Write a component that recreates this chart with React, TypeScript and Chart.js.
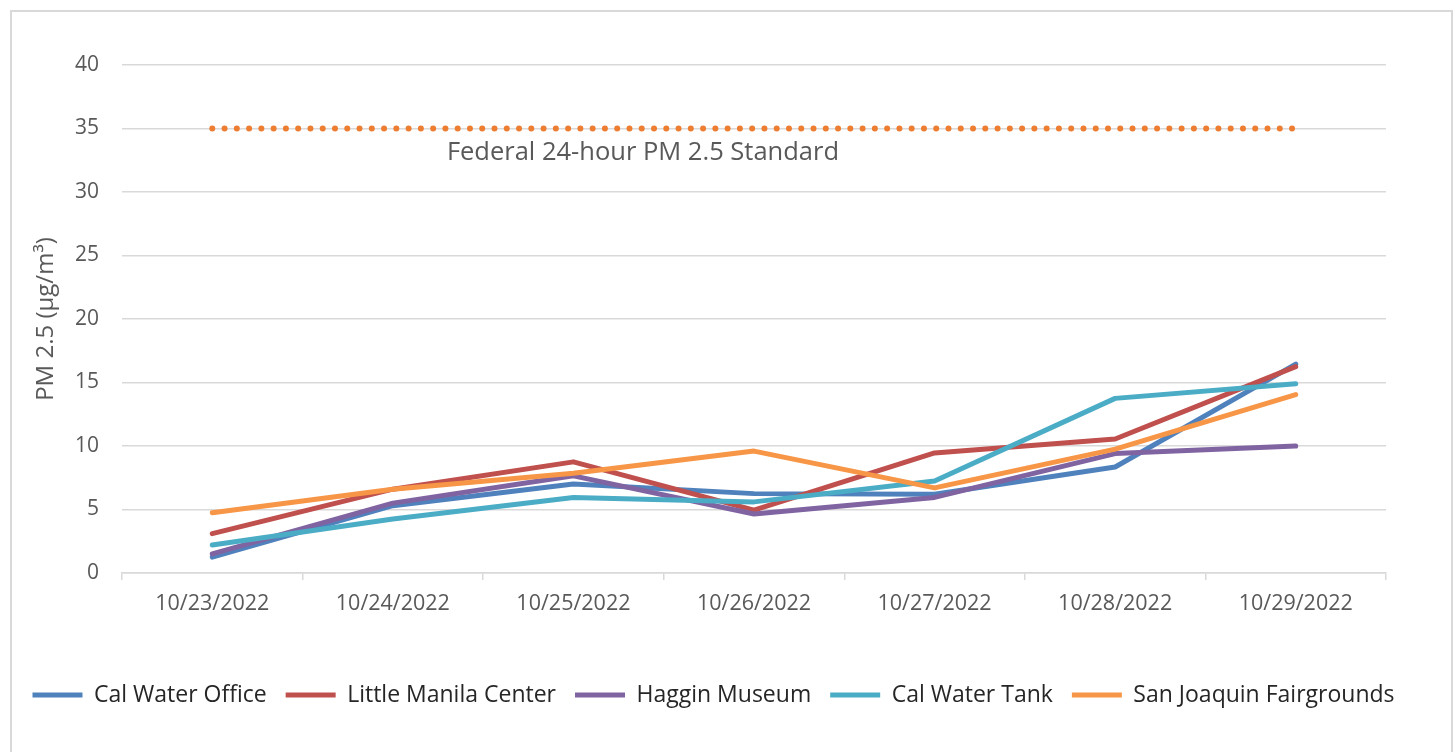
import React, { useEffect, useRef } from 'react';
import { Chart, registerables } from 'chart.js';

Chart.register(...registerables);

const categories = ['10/23/2022', '10/24/2022', '10/25/2022', '10/26/2022', '10/27/2022', '10/28/2022', '10/29/2022'];

const calWaterOffice = [1.25, 5.3, 7.0, 6.25, 6.2, 8.35, 16.45];
const littleManilaCenter = [3.1, 6.6, 8.75, 4.95, 9.45, 10.55, 16.25];
const hagginMuseum = [1.5, 5.5, 7.65, 4.65, 5.95, 9.4, 10.0];
const calWaterTank = [2.2, 4.25, 5.95, 5.6, 7.25, 13.75, 14.9];
const sanJoaquinFairgrounds = [4.75, 6.6, 7.85, 9.6, 6.7, 9.75, 14.05];
const federalStandard = [35, 35, 35, 35, 35, 35, 35];

const seriesNames = ['Cal Water Office', 'Little Manila Center', 'Haggin Museum', 'Cal Water Tank', 'San Joaquin Fairgrounds'];
const seriesColors = ['#4F81BD', '#C0504D', '#8064A2', '#4BACC6', '#F79646'];

const STANDARD_LABEL = 'Federal 24-hour PM 2.5 Standard';
const STANDARD_LABEL_X = 2.385;
const STANDARD_LABEL_Y = 33.1;

const yTitle = 'PM 2.5 (\u03BCg/m\u00B3)';

const FONT = "'Open Sans', sans-serif";

export default function App() {
  const ref = useRef<HTMLCanvasElement>(null);

  useEffect(() => {
    document.body.style.overflow = 'hidden';
    const standardLabelPlugin = {
      id: 'stdLabel',
      afterDatasetsDraw(chart: any) {
        const { ctx, scales } = chart;
        const x = scales.x;
        const y = scales.y;
        ctx.save();
        ctx.font = `25.5px ${FONT}`;
        ctx.fillStyle = '#595959';
        ctx.textAlign = 'center';
        ctx.textBaseline = 'middle';
        ctx.fillText(STANDARD_LABEL, x.getPixelForValue(STANDARD_LABEL_X), y.getPixelForValue(STANDARD_LABEL_Y));
        ctx.restore();
      },
    };

    const seriesData = [calWaterOffice, littleManilaCenter, hagginMuseum, calWaterTank, sanJoaquinFairgrounds];
    const datasets: any[] = seriesData.map((d, i) => ({
      label: seriesNames[i],
      data: d,
      borderColor: seriesColors[i],
      backgroundColor: seriesColors[i],
      borderWidth: 5,
      borderCapStyle: 'round',
      borderJoinStyle: 'round',
      pointRadius: 0,
      pointHoverRadius: 0,
      tension: 0,
      fill: false,
      order: 5 - i,
    }));
    datasets.push({
      label: 'Federal Standard',
      data: federalStandard,
      borderColor: '#ED7D31',
      backgroundColor: '#ED7D31',
      borderWidth: 6,
      borderDash: [0, 12.27],
      borderCapStyle: 'round',
      pointRadius: 0,
      pointHoverRadius: 0,
      tension: 0,
      fill: false,
      order: 10,
    });

    const chart = new Chart(ref.current as HTMLCanvasElement, {
      type: 'line',
      data: { labels: categories, datasets },
      options: {
        responsive: false,
        animation: false,
        devicePixelRatio: 1,
        layout: { padding: { left: 3.5, right: 0, top: 55, bottom: 35.5 } },
        plugins: {
          legend: {
            position: 'bottom',
            align: 'start',
            labels: {
              usePointStyle: true,
              pointStyle: 'line',
              pointStyleWidth: 50,
              font: { family: FONT, size: 23 },
              color: '#262626',
              padding: 19,
              filter: (item: any) => item.datasetIndex < 5,
              sort: (a: any, b: any) => a.datasetIndex - b.datasetIndex,
            },
          },
          tooltip: { enabled: false },
        },
        scales: {
          x: {
            offset: true,
            grid: { offset: true, drawOnChartArea: false, drawTicks: true, tickLength: 7, color: '#d9d9d9', lineWidth: 1.5 },
            border: { color: '#d9d9d9', width: 1.5 },
            ticks: { font: { family: FONT, size: 21.5 }, color: '#595959', padding: 11, maxRotation: 0, autoSkip: false },
            afterFit: (s: any) => { s.height = 91.5; },
          },
          y: {
            min: 0,
            max: 40,
            ticks: { stepSize: 5, font: { family: FONT, size: 21 }, color: '#595959', padding: 23 },
            grid: { color: '#d9d9d9', lineWidth: 1.5, drawTicks: false },
            border: { display: false },
            title: { display: true, text: yTitle, font: { family: FONT, size: 24 }, color: '#595959', padding: { top: 18, bottom: 0 } },
            afterFit: (s: any) => { s.width = 108.5; },
          },
          yRightSpace: {
            type: 'linear',
            position: 'right',
            display: true,
            min: 0,
            max: 40,
            ticks: { display: false },
            grid: { display: false, drawTicks: false },
            border: { display: false },
            afterFit: (s: any) => { s.width = 67; },
          },
        },
      } as any,
      plugins: [standardLabelPlugin],
    });
    return () => chart.destroy();
  }, []);

  return (
    <div style={{ position: 'fixed', left: 10, top: 10, width: 1443, height: 742, background: '#fff' }}>
      <canvas ref={ref} width={1443} height={742} style={{ display: 'block', width: 1443, height: 742 }} />
      <div style={{ position: 'absolute', left: 0, top: 0, width: 1443, height: 742, border: '2px solid #d9d9d9', borderBottom: 'none', boxSizing: 'border-box', pointerEvents: 'none' }} />
    </div>
  );
}
